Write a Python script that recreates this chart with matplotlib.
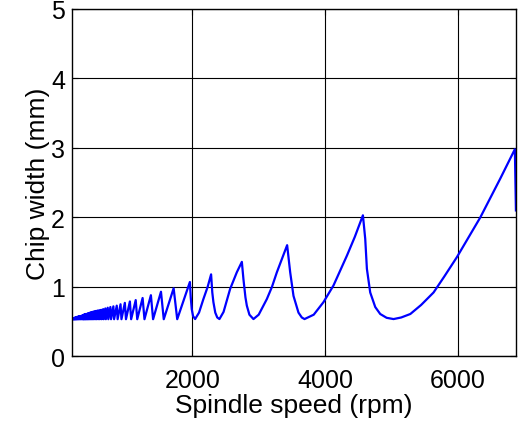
import numpy as np
import matplotlib
matplotlib.use("Agg")
import matplotlib.pyplot as plt

plt.rcParams['font.family'] = ['Liberation Sans', 'DejaVu Sans']

# small lobes at low spindle speed: cusp (peak) and the minimum right after it
small_peak_rpm = [1717, 1526, 1374, 1249, 1145, 1057, 981, 916, 859, 808,
                  763, 723, 687, 654, 624, 597, 572, 549, 528, 509,
                  491, 474, 458, 443, 429, 416, 404, 392, 382, 371,
                  361, 352, 343, 327, 312, 299, 286, 275, 264, 254,
                  245, 237, 229, 222, 215, 208, 202, 196, 191, 186]
small_peak_w = [0.98, 0.93, 0.88, 0.84, 0.81, 0.79, 0.77, 0.75, 0.73, 0.72,
                0.71, 0.70, 0.69, 0.68, 0.67, 0.665, 0.66, 0.655, 0.65, 0.645,
                0.64, 0.635, 0.63, 0.625, 0.62, 0.615, 0.61, 0.61, 0.605, 0.60,
                0.60, 0.595, 0.59, 0.585, 0.58, 0.58, 0.575, 0.57, 0.57, 0.565,
                0.56, 0.56, 0.555, 0.555, 0.55, 0.55, 0.55, 0.545, 0.545, 0.545]
small_min_rpm = [1771, 1568, 1407, 1277, 1168, 1076, 998, 930, 872, 819,
                 773, 732, 695, 661, 631, 603, 578, 554, 533, 513,
                 495, 478, 462, 446, 432, 419, 407, 395, 384, 373,
                 363, 354, 345, 330, 315, 302, 289, 277, 266, 256,
                 247, 239, 231, 224, 217, 210, 204, 198, 192, 187]
min_w = 0.535

# larger lobes, traced point by point
big_rpm = [1962, 1975, 1990, 2010, 2041, 2100, 2166, 2230, 2282,
           2300, 2317, 2345, 2375, 2408, 2470, 2569, 2670, 2746,
           2770, 2800, 2821, 2860, 2921, 3000, 3123, 3200, 3274, 3350, 3429,
           3475, 3525, 3600, 3650, 3691, 3830, 3977, 4128, 4331, 4450, 4572,
           4607, 4632, 4682, 4758, 4833, 4930, 5034,
           5150, 5287, 5450, 5638, 5800, 5991, 6170, 6343, 6500, 6645, 6864, 6880]
big_w = [1.07, 0.85, 0.68, 0.58, 0.537, 0.63, 0.825, 1.0, 1.18,
         0.92, 0.78, 0.63, 0.56, 0.537, 0.64, 0.97, 1.21, 1.36,
         1.11, 0.85, 0.73, 0.60, 0.537, 0.60, 0.825, 1.0, 1.21, 1.40, 1.60,
         1.21, 0.87, 0.63, 0.56, 0.537, 0.60, 0.78, 1.02, 1.45, 1.72, 2.03,
         1.69, 1.26, 0.92, 0.71, 0.61, 0.555, 0.537,
         0.56, 0.61, 0.74, 0.92, 1.15, 1.43, 1.72, 2.00, 2.29, 2.56, 2.98, 2.10]

rpm = [184]
w = [0.54]
for pr, pw, mr in zip(small_peak_rpm[::-1], small_peak_w[::-1], small_min_rpm[::-1]):
    rpm += [pr, mr]
    w += [pw, min_w]
rpm += big_rpm
w += big_w

fig = plt.figure(figsize=(5.18, 4.27), dpi=100)
ax = fig.add_axes([0.139, 0.163, 0.857, 0.814])
ax.plot(rpm, w, color='#0000ff', lw=1.6)

ax.set_xlim(184, 6880)
ax.set_ylim(0, 5)
ax.set_xticks([2000, 4000, 6000])
ax.set_yticks([0, 1, 2, 3, 4, 5])
ax.grid(True, color='black', lw=0.8)
ax.tick_params(direction='in', top=True, right=True, labelsize=18, length=4)
ax.tick_params(axis='x', pad=8)
ax.tick_params(axis='y', pad=5)
for s in ax.spines.values():
    s.set_linewidth(1.0)
ax.set_xlabel('Spindle speed (rpm)', fontsize=19, labelpad=1)
ax.set_ylabel('Chip width (mm)', fontsize=19, labelpad=1)

fig.savefig('out.png', dpi=100)
